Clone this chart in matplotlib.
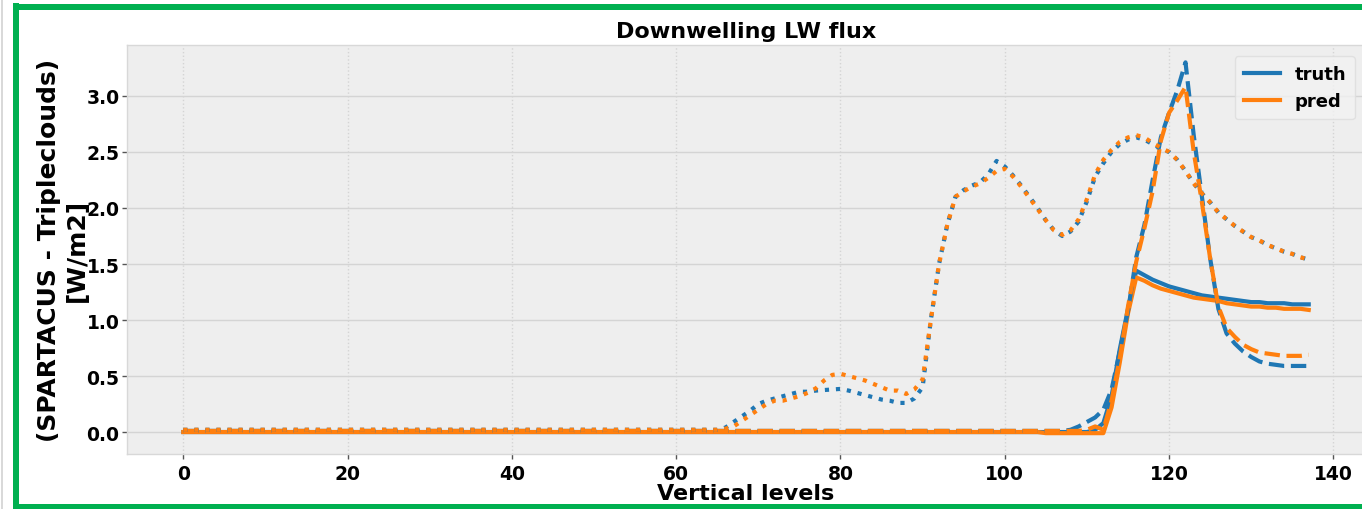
import matplotlib
matplotlib.use("Agg")
import matplotlib.pyplot as plt
from matplotlib.lines import Line2D

# ---------------- data ----------------
levels = list(range(138))

truth_solid = [
    0.00, 0.00, 0.00, 0.00, 0.00, 0.00, 0.00, 0.00, 0.00, 0.00,
    0.00, 0.00, 0.00, 0.00, 0.00, 0.00, 0.00, 0.00, 0.00, 0.00,
    0.00, 0.00, 0.00, 0.00, 0.00, 0.00, 0.00, 0.00, 0.00, 0.00,
    0.00, 0.00, 0.00, 0.00, 0.00, 0.00, 0.00, 0.00, 0.00, 0.00,
    0.00, 0.00, 0.00, 0.00, 0.00, 0.00, 0.00, 0.00, 0.00, 0.00,
    0.00, 0.00, 0.00, 0.00, 0.00, 0.00, 0.00, 0.00, 0.00, 0.00,
    0.00, 0.00, 0.00, 0.00, 0.00, 0.00, 0.00, 0.00, 0.00, 0.00,
    0.00, 0.00, 0.00, 0.00, 0.00, 0.00, 0.00, 0.00, 0.00, 0.00,
    0.00, 0.00, 0.00, 0.00, 0.00, 0.00, 0.00, 0.00, 0.00, 0.00,
    0.00, 0.00, 0.00, 0.00, 0.00, 0.00, 0.00, 0.00, 0.00, 0.00,
    0.00, 0.00, 0.00, 0.00, 0.00, 0.00, 0.00, 0.00, 0.00, 0.00,
    0.00, 0.02, 0.08, 0.32, 0.74, 1.10, 1.44, 1.40, 1.36, 1.33,
    1.30, 1.28, 1.26, 1.24, 1.22, 1.21, 1.20, 1.19, 1.18, 1.17,
    1.16, 1.16, 1.15, 1.15, 1.15, 1.14, 1.14, 1.14,
]

pred_solid = [
    0.00, 0.00, 0.00, 0.00, 0.00, 0.00, 0.00, 0.00, 0.00, 0.00,
    0.00, 0.00, 0.00, 0.00, 0.00, 0.00, 0.00, 0.00, 0.00, 0.00,
    0.00, 0.00, 0.00, 0.00, 0.00, 0.00, 0.00, 0.00, 0.00, 0.00,
    0.00, 0.00, 0.00, 0.00, 0.00, 0.00, 0.00, 0.00, 0.00, 0.00,
    0.00, 0.00, 0.00, 0.00, 0.00, 0.00, 0.00, 0.00, 0.00, 0.00,
    0.00, 0.00, 0.00, 0.00, 0.00, 0.00, 0.00, 0.00, 0.00, 0.00,
    0.00, 0.00, 0.00, 0.00, 0.00, 0.00, 0.00, 0.00, 0.00, 0.00,
    0.00, 0.00, 0.00, 0.00, 0.00, 0.00, 0.00, 0.00, 0.00, 0.00,
    0.00, 0.00, 0.00, 0.00, 0.00, 0.00, 0.00, 0.00, 0.00, 0.00,
    0.00, 0.00, 0.00, 0.00, 0.00, 0.00, 0.00, 0.00, 0.00, 0.00,
    0.00, 0.00, 0.00, 0.00, 0.00, -0.01, -0.01, -0.01, -0.01, -0.01,
    -0.01, -0.01, -0.01, 0.22, 0.62, 1.06, 1.38, 1.35, 1.31, 1.28,
    1.26, 1.24, 1.22, 1.20, 1.19, 1.18, 1.17, 1.15, 1.14, 1.13,
    1.12, 1.12, 1.11, 1.11, 1.10, 1.10, 1.10, 1.09,
]

truth_dashed = [
    0.01, 0.01, 0.01, 0.01, 0.01, 0.01, 0.01, 0.01, 0.01, 0.01,
    0.01, 0.01, 0.01, 0.01, 0.01, 0.01, 0.01, 0.01, 0.01, 0.01,
    0.01, 0.01, 0.01, 0.01, 0.01, 0.01, 0.01, 0.01, 0.01, 0.01,
    0.01, 0.01, 0.01, 0.01, 0.01, 0.01, 0.01, 0.01, 0.01, 0.01,
    0.01, 0.01, 0.01, 0.01, 0.01, 0.01, 0.01, 0.01, 0.01, 0.01,
    0.01, 0.01, 0.01, 0.01, 0.01, 0.01, 0.01, 0.01, 0.01, 0.01,
    0.01, 0.01, 0.01, 0.01, 0.01, 0.01, 0.01, 0.01, 0.01, 0.01,
    0.01, 0.01, 0.01, 0.01, 0.01, 0.01, 0.01, 0.01, 0.01, 0.01,
    0.01, 0.01, 0.01, 0.01, 0.01, 0.01, 0.01, 0.01, 0.01, 0.01,
    0.01, 0.01, 0.01, 0.01, 0.01, 0.01, 0.01, 0.01, 0.01, 0.01,
    0.01, 0.01, 0.01, 0.01, 0.01, 0.01, 0.01, 0.01, 0.02, 0.05,
    0.09, 0.13, 0.20, 0.38, 0.72, 1.08, 1.56, 1.85, 2.25, 2.63,
    2.85, 3.05, 3.30, 2.65, 2.10, 1.55, 1.10, 0.88, 0.79, 0.72,
    0.67, 0.63, 0.61, 0.60, 0.59, 0.59, 0.59, 0.59,
]

pred_dashed = [
    0.01, 0.01, 0.01, 0.01, 0.01, 0.01, 0.01, 0.01, 0.01, 0.01,
    0.01, 0.01, 0.01, 0.01, 0.01, 0.01, 0.01, 0.01, 0.01, 0.01,
    0.01, 0.01, 0.01, 0.01, 0.01, 0.01, 0.01, 0.01, 0.01, 0.01,
    0.01, 0.01, 0.01, 0.01, 0.01, 0.01, 0.01, 0.01, 0.01, 0.01,
    0.01, 0.01, 0.01, 0.01, 0.01, 0.01, 0.01, 0.01, 0.01, 0.01,
    0.01, 0.01, 0.01, 0.01, 0.01, 0.01, 0.01, 0.01, 0.01, 0.01,
    0.01, 0.01, 0.01, 0.01, 0.01, 0.01, 0.01, 0.01, 0.01, 0.01,
    0.01, 0.01, 0.01, 0.01, 0.01, 0.01, 0.01, 0.01, 0.01, 0.01,
    0.01, 0.01, 0.01, 0.01, 0.01, 0.01, 0.01, 0.01, 0.01, 0.01,
    0.01, 0.01, 0.01, 0.01, 0.01, 0.01, 0.01, 0.01, 0.01, 0.01,
    0.01, 0.01, 0.01, 0.01, 0.01, 0.01, 0.01, 0.01, 0.01, 0.01,
    0.02, 0.05, 0.02, 0.28, 0.66, 1.12, 1.52, 1.82, 2.15, 2.60,
    2.85, 2.96, 3.08, 2.50, 2.05, 1.55, 1.12, 0.93, 0.85, 0.78,
    0.74, 0.71, 0.70, 0.69, 0.68, 0.68, 0.68, 0.69,
]

truth_dotted = [
    0.02, 0.02, 0.02, 0.02, 0.02, 0.02, 0.02, 0.02, 0.02, 0.02,
    0.02, 0.02, 0.02, 0.02, 0.02, 0.02, 0.02, 0.02, 0.02, 0.02,
    0.02, 0.02, 0.02, 0.02, 0.02, 0.02, 0.02, 0.02, 0.02, 0.02,
    0.02, 0.02, 0.02, 0.02, 0.02, 0.02, 0.02, 0.02, 0.02, 0.02,
    0.02, 0.02, 0.02, 0.02, 0.02, 0.02, 0.02, 0.02, 0.02, 0.02,
    0.02, 0.02, 0.02, 0.02, 0.02, 0.02, 0.02, 0.02, 0.02, 0.02,
    0.02, 0.02, 0.02, 0.02, 0.02, 0.02, 0.04, 0.09, 0.14, 0.19,
    0.25, 0.28, 0.30, 0.32, 0.34, 0.36, 0.36, 0.37, 0.375, 0.38,
    0.385, 0.37, 0.35, 0.33, 0.31, 0.29, 0.28, 0.26, 0.26, 0.30,
    0.40, 1.00, 1.50, 1.85, 2.10, 2.16, 2.20, 2.23, 2.30, 2.42,
    2.37, 2.29, 2.20, 2.10, 2.00, 1.89, 1.80, 1.75, 1.79, 1.88,
    2.06, 2.28, 2.40, 2.50, 2.57, 2.61, 2.63, 2.61, 2.57, 2.53,
    2.50, 2.43, 2.33, 2.22, 2.13, 2.05, 1.96, 1.90, 1.84, 1.79,
    1.74, 1.71, 1.67, 1.64, 1.61, 1.59, 1.56, 1.54,
]

pred_dotted = [
    0.02, 0.02, 0.02, 0.02, 0.02, 0.02, 0.02, 0.02, 0.02, 0.02,
    0.02, 0.02, 0.02, 0.02, 0.02, 0.02, 0.02, 0.02, 0.02, 0.02,
    0.02, 0.02, 0.02, 0.02, 0.02, 0.02, 0.02, 0.02, 0.02, 0.02,
    0.02, 0.02, 0.02, 0.02, 0.02, 0.02, 0.02, 0.02, 0.02, 0.02,
    0.02, 0.02, 0.02, 0.02, 0.02, 0.02, 0.02, 0.02, 0.02, 0.02,
    0.02, 0.02, 0.02, 0.02, 0.02, 0.02, 0.02, 0.02, 0.02, 0.02,
    0.02, 0.02, 0.02, 0.02, 0.02, 0.02, 0.03, 0.05, 0.10, 0.15,
    0.20, 0.25, 0.28, 0.28, 0.30, 0.32, 0.35, 0.39, 0.46, 0.51,
    0.52, 0.50, 0.48, 0.46, 0.43, 0.40, 0.37, 0.37, 0.34, 0.38,
    0.47, 1.00, 1.50, 1.85, 2.10, 2.15, 2.19, 2.22, 2.27, 2.33,
    2.35, 2.28, 2.19, 2.09, 1.99, 1.89, 1.80, 1.76, 1.80, 1.90,
    2.08, 2.30, 2.43, 2.52, 2.59, 2.63, 2.65, 2.63, 2.58, 2.54,
    2.50, 2.43, 2.33, 2.22, 2.13, 2.05, 1.96, 1.90, 1.84, 1.79,
    1.74, 1.71, 1.67, 1.64, 1.61, 1.59, 1.56, 1.54,
]

series_labels = ["truth", "pred"]
x_ticks = [0, 20, 40, 60, 80, 100, 120, 140]
y_ticks = [0.0, 0.5, 1.0, 1.5, 2.0, 2.5, 3.0]
title = "Downwelling LW flux"
xlabel = "Vertical levels"
ylabel = "(SPARTACUS - Tripleclouds)\n[W/m2]"

# ---------------- figure ----------------
W, H = 1362, 510
plt.rcParams["font.family"] = ["DejaVu Sans"]
plt.rcParams["font.weight"] = "bold"
fig = plt.figure(figsize=(W / 100, H / 100), dpi=100)
fig.patch.set_facecolor("white")

ax = fig.add_axes([127 / W, 1 - 455 / H, (1365 - 127) / W, (455 - 46) / H])
ax.set_facecolor("#eeeeee")
for s in ax.spines.values():
    s.set_color("#d8d8d8")
    s.set_linewidth(1.0)

blue = "#1f77b4"
orange = "#ff7f0e"
lw = 3.0

ax.plot(levels, truth_solid, color=blue, lw=lw, ls="-", label=series_labels[0])
ax.plot(levels, pred_solid, color=orange, lw=lw, ls="-", label=series_labels[1])
ax.plot(levels, truth_dashed, color=blue, lw=lw, ls="--")
ax.plot(levels, pred_dashed, color=orange, lw=lw, ls="--")
ax.plot(levels, truth_dotted, color=blue, lw=lw, ls=":")
ax.plot(levels, pred_dotted, color=orange, lw=lw, ls=":")

ax.set_xlim(-6.85, 143.85)
ax.set_ylim(-0.196, 3.455)
ax.set_xticks(x_ticks)
ax.set_yticks(y_ticks)
ax.set_yticklabels([f"{v:.1f}" for v in y_ticks])
ax.tick_params(axis="both", labelsize=13.5, colors="#555555", length=3.5, width=1,
               labelcolor="black")
ax.tick_params(axis="y", pad=2)
ax.tick_params(axis="x", pad=4)
for lab in ax.get_xticklabels() + ax.get_yticklabels():
    lab.set_fontweight("bold")

ax.grid(True, axis="y", color="#d4d4d4", lw=1.0, ls="-")
ax.grid(True, axis="x", color="#d4d4d4", lw=1.0, ls=":")
ax.set_axisbelow(True)

ax.set_title(title, fontsize=16, fontweight="bold", pad=6)
ax.set_xlabel(xlabel, fontsize=16, fontweight="bold", labelpad=0)
ax.set_ylabel(ylabel, fontsize=18, fontweight="bold", labelpad=-2, linespacing=1.2)

leg = ax.legend(loc="upper right", fontsize=13, frameon=True, fancybox=True,
                handlelength=2.0, borderpad=0.5, labelspacing=0.5,
                borderaxespad=0.0, bbox_to_anchor=(0.992, 0.973))
leg.get_frame().set_facecolor("#f2f2f2")
leg.get_frame().set_edgecolor("#dddddd")
for t in leg.get_texts():
    t.set_fontweight("bold")

# green frame of the screenshot
gcol = "#00b050"
glw = 6 * 72 / 100
fig.add_artist(Line2D([16 / W, 16 / W], [0, 1 - 4 / H], transform=fig.transFigure,
                      color=gcol, lw=glw, solid_capstyle="butt"))
fig.add_artist(Line2D([13 / W, 1.0], [1 - 7.5 / H, 1 - 7.5 / H], transform=fig.transFigure,
                      color=gcol, lw=glw, solid_capstyle="butt"))
fig.add_artist(Line2D([13 / W, 1.0], [2.5 / H, 2.5 / H], transform=fig.transFigure,
                      color=gcol, lw=glw, solid_capstyle="butt"))
fig.add_artist(Line2D([1.5 / W, 1.5 / W], [0, 1], transform=fig.transFigure,
                      color="#d9d9d9", lw=2 * 72 / 100))

fig.savefig("out.png", dpi=100)
